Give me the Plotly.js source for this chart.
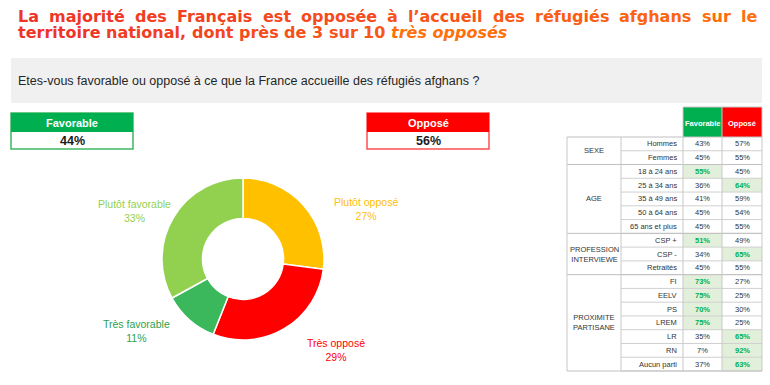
<!DOCTYPE html>
<html><head><meta charset="utf-8">
<script src="https://cdn.plot.ly/plotly-3.0.1.min.js"></script>
<style>html,body{margin:0;padding:0;background:#fff}#chart{width:770px;height:385px}</style>
</head><body><div id="chart"></div>
<script>
// ---- data ----
const titleLine1 = "La majorité des Français est opposée à l’accueil des réfugiés afghans sur le";
const titleLine2 = "territoire national, dont près de 3 sur 10";
const titleLine2Em = "très opposés";
const sliceLabels = ["Plutôt opposé", "Très opposé", "Très favorable", "Plutôt favorable"];
const sliceValues = [27, 29, 11, 33];
const totalLabels = ["Favorable", "Opposé"];
const totalValues = [44, 56];
const question = "Etes-vous favorable ou opposé à ce que la France accueille des réfugiés afghans ?";
const groups = ["SEXE", "AGE", "PROFESSION<br>INTERVIEWE", "PROXIMITE<br>PARTISANE"];
const groupSizes = [2, 5, 3, 7];
const rowLabels = ["Hommes","Femmes","18 à 24 ans","25 à 34 ans","35 à 49 ans","50 à 64 ans","65 ans et plus","CSP +","CSP -","Retraités","FI","EELV","PS","LREM","LR","RN","Aucun parti"];
const favValues = [43,45,55,36,41,45,45,51,34,45,73,75,70,75,35,7,37];
const oppValues = [57,55,45,64,59,54,55,49,65,55,27,25,30,25,65,92,63];
const favHighlight = [0,0,1,0,0,0,0,1,0,0,1,1,1,1,0,0,0];
const oppHighlight = [0,0,0,1,0,0,0,0,1,0,0,0,0,0,1,1,1];

// ---- styles / layout ----
const sliceColors = ["#FFC000", "#FF0000", "#3BB85C", "#92D050"];
const labelColors = ["#FFC000", "#FF0000", "#2E9E4E", "#92D050"];
const labelAnchors = [[366, 209], [336, 350], [136, 331], [134, 211]];
const F = "Liberation Sans, Arial, sans-serif";
const TF = "DejaVu Sans, Verdana, sans-serif";
const TS = 16;
const shapes = [], ann = [];
function rect(x0,y0,x1,y1,fill,line,lw){shapes.push({type:'rect',xref:'x',yref:'y',x0,y0,x1,y1,fillcolor:fill||'rgba(0,0,0,0)',line:{color:line||'rgba(0,0,0,0)',width:lw||0},layer:'below'});}
function hline(x0,x1,y,c,w){shapes.push({type:'line',xref:'x',yref:'y',x0,x1,y0:y,y1:y,line:{color:c||'#C8C8C8',width:w||1}});}
function vline(x,y0,y1,c,w){shapes.push({type:'line',xref:'x',yref:'y',x0:x,x1:x,y0,y1,line:{color:c||'#C8C8C8',width:w||1}});}
function txt(x,y,t,size,color,xa,extra,fam){ann.push(Object.assign({xref:'x',yref:'y',x,y,text:t,showarrow:false,xanchor:xa||'center',yanchor:'middle',borderpad:0,font:{family:fam||F,size,color}},extra||{}));}

// title: justified line 1 with red->orange gradient
const cv=document.createElement('canvas').getContext('2d');
cv.font='bold '+TS+'px DejaVu Sans';
function mix(t,c0,c1){const c=c0.map((v,k)=>Math.round(v+(c1[k]-v)*t));return 'rgb('+c.join(',')+')';}
const RED=[238,52,40], ORG=[255,112,10];
(function(){
  const words=titleLine1.split(' ');
  const ws=words.map(w=>cv.measureText(w).width);
  const X0=17, X1=756, total=ws.reduce((a,b)=>a+b,0);
  const gap=(X1-X0-total)/(words.length-1);
  let x=X0;
  words.forEach((w,i)=>{
    txt(x,16,'<b>'+w+'</b>',TS,mix((x-X0)/(X1-X0),RED,ORG),'left',{},TF);
    x+=ws[i]+gap;
  });
  const w2=titleLine2.split(' ');
  const sp=cv.measureText(' ').width;
  let x2=X0;
  w2.forEach(w=>{
    txt(x2,32,'<b>'+w+'</b>',TS,mix((x2-X0)/(505-X0)*0.85,RED,ORG),'left',{},TF);
    x2+=cv.measureText(w).width+sp;
  });
  txt(x2,32,'<b><i>'+titleLine2Em+'</i></b>',TS,mix(1,RED,ORG),'left',{},TF);
})();

// question band
rect(11, 58, 762, 103, '#F0F0F0');
txt(17, 81, question, 12.5, '#262626', 'left');

// total boxes
const boxX = [[11,133],[367,489]], boxCol = ['#00B050','#FF0000'], boxLine=['#3CB860','#FF5050'];
for (let i=0;i<2;i++){
  const [a,b]=boxX[i];
  rect(a,113,b,149,'#FFFFFF',boxLine[i],1.5);
  rect(a,113,b,132,boxCol[i]);
  txt((a+b)/2,122.5,'<b>'+totalLabels[i]+'</b>',11,'#FFFFFF');
  txt((a+b)/2,141,'<b>'+totalValues[i]+'%</b>',12.5,'#1A1A1A');
}

// pie labels
for (let i=0;i<sliceLabels.length;i++){
  const [x,y]=labelAnchors[i];
  txt(x,y,sliceLabels[i]+'<br>'+sliceValues[i]+'%',10.5,labelColors[i],'center',{align:'center'});
}

// table
const cx=[567,621,683,722,762], tTop=137, rh=(371-137)/17;
rect(683,107,722,137,'#00B050');
rect(722,107,762,137,'#FF0000');
txt(702.5,123,'<b>Favorable</b>',7.5,'#FFFFFF');
txt(742,123,'<b>Opposé</b>',7.5,'#FFFFFF');
for (let r=0;r<rowLabels.length;r++){
  const y0=tTop+r*rh, ym=y0+rh/2;
  if (favHighlight[r]) rect(683,y0,722,y0+rh,'#E2EFDA');
  if (oppHighlight[r]) rect(722,y0,762,y0+rh,'#E2EFDA');
  txt(678,ym,rowLabels[r],7.5,'#333333','right');
  txt(702.5,ym,favHighlight[r]?'<b>'+favValues[r]+'%</b>':favValues[r]+'%',7.5,favHighlight[r]?'#00B050':'#333333');
  txt(742,ym,oppHighlight[r]?'<b>'+oppValues[r]+'%</b>':oppValues[r]+'%',7.5,oppHighlight[r]?'#00B050':'#333333');
  hline(621,762,y0+rh,'#D0D0D0',1);
}
let rAcc=0;
hline(567,762,tTop,'#C0C0C0',1);
for (let g=0;g<groups.length;g++){
  const y0=tTop+rAcc*rh, y1=tTop+(rAcc+groupSizes[g])*rh;
  txt(594,(y0+y1)/2,groups[g],7.5,'#333333','center',{align:'center'});
  hline(567,762,y1,'#C0C0C0',1);
  rAcc+=groupSizes[g];
}
cx.forEach((x,i)=>vline(x,i>=2?107:tTop,371,'#C8C8C8',1));
hline(683,762,107,'#C8C8C8',1);

const data=[{
  type:'pie', labels:sliceLabels, values:sliceValues, sort:false, direction:'clockwise', rotation:0,
  hole:0.5, textinfo:'none', hoverinfo:'label+percent',
  marker:{colors:sliceColors, line:{color:'#FFFFFF', width:1.5}},
  domain:{x:[(243-81)/770,(243+81)/770], y:[(385-259-81)/385,(385-259+81)/385]},
  showlegend:false
}];
const layout={
  width:770,height:385,margin:{l:0,r:0,t:0,b:0},paper_bgcolor:'#FFFFFF',plot_bgcolor:'rgba(0,0,0,0)',
  xaxis:{range:[0,770],visible:false,fixedrange:true},
  yaxis:{range:[385,0],visible:false,fixedrange:true},
  shapes, annotations:ann, showlegend:false
};
Plotly.newPlot('chart',data,layout,{displayModeBar:false,staticPlot:true});
</script></body></html>
